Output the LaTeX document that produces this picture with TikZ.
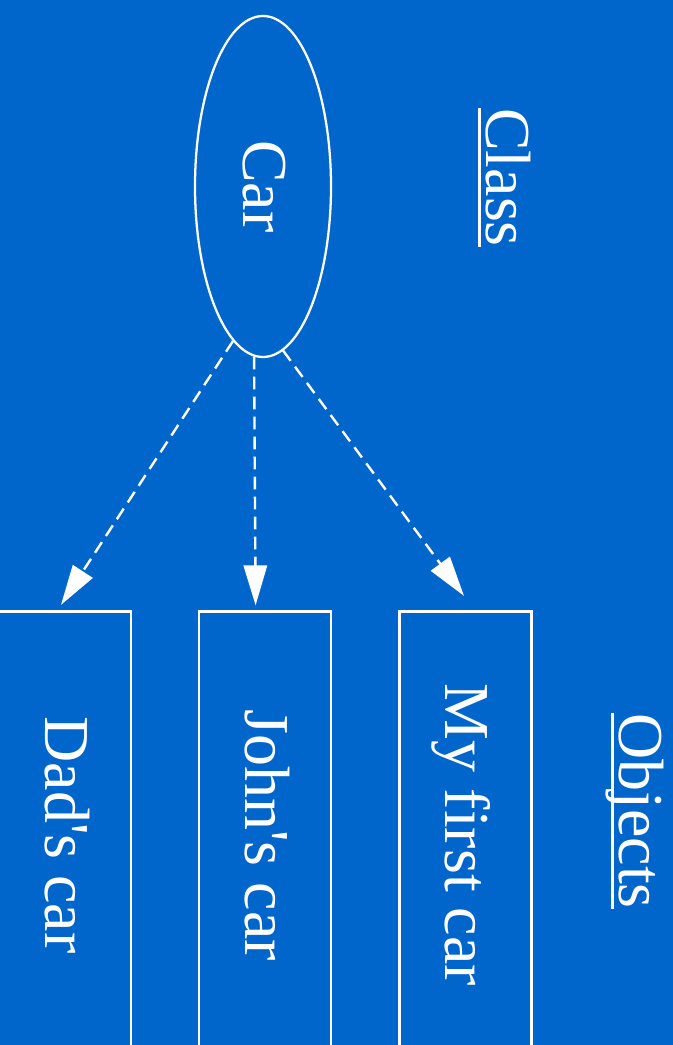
\documentclass[tikz,border=0pt]{standalone}
\usepackage{fontspec}
\setmainfont{Liberation Serif}[Ligatures=TeXOff]
\usetikzlibrary{shapes.geometric,arrows.meta,calc}
\definecolor{bgblue}{HTML}{0066CC}
% vertical label: text turned clockwise, with a fixed strut so all labels share one baseline offset
\newcommand{\vtext}[1]{\rotatebox{-90}{\rule[-0.25em]{0pt}{1.125em}#1}}

\begin{document}
\begin{tikzpicture}[x=0.75pt,y=-0.75pt,
  every node/.style={text=white, font=\fontsize{48}{58}\selectfont, inner sep=0pt},
  shapeline/.style={draw=white, line width=1.7pt},
  classnode/.style={shapeline, ellipse, minimum width=102pt, minimum height=255.75pt},
  objbox/.style={shapeline, rectangle, minimum width=99pt, minimum height=335.25pt},
  instanceof/.style={white, line width=1.8pt, dash pattern=on 9.5pt off 5.5pt,
    -{Triangle[length=30pt,width=17.5pt]}},
  headrule/.style={white, line width=2.6pt}]
  \useasboundingbox (0,0) rectangle (673,1045);
  \fill[bgblue] (0,0) rectangle (673,1045);
  \clip (0,0) rectangle (673,1045);

  % class
  \node[classnode] (car) at (263,186.5) {\vtext{Car}};

  % objects
  \node[objbox] (dad)  at (65,835)    {\vtext{Dad's car}};
  \node[objbox] (john) at (265,835)   {\vtext{John's car}};
  \node[objbox] (mine) at (465.5,835) {\vtext{My first car}};

  % headings
  \node (cls)  at (506,177.5) {\vtext{Class}};
  \node (objs) at (639,811)   {\vtext{Objects}};
  \draw[headrule] ($(cls.north west)+(9.5,0)$) -- ($(cls.south west)+(9.5,0)$);
  \draw[headrule] ($(objs.north west)+(9.5,0)$) -- ($(objs.south west)+(9.5,0)$);

  % instance-of edges
  \draw[instanceof] (car.259.8) -- ($(dad.north)+(-4,-5.5)$);
  \draw[instanceof] (car.267.5) -- ($(john.north)+(-9.4,-5)$);
  \draw[instanceof] (car.277)   -- ($(mine.north)+(-1.5,-14.5)$);
\end{tikzpicture}
\end{document}
